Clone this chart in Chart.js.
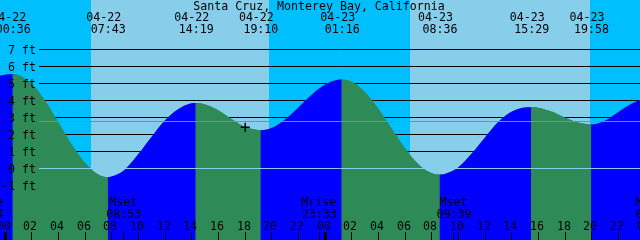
<!DOCTYPE html>
<html>
<head>
<meta charset="utf-8">
<script src="https://cdn.jsdelivr.net/npm/chart.js@4.4.1/dist/chart.umd.min.js"></script>
<style>
  html, body { margin: 0; padding: 0; background: #00bfff; }
  #wrap { width: 640px; height: 240px; }
</style>
</head>
<body>
<div id="wrap"><canvas id="tideChart"></canvas></div>
<script>
const title = "Santa Cruz, Monterey Bay, California";

// tide curve: hours after 04-22 00:00, height in ft
const tideHours = [-0.5, 0, 0.6, 1, 2, 3, 4, 5, 6, 7, 7.72, 8, 9, 10, 11, 12, 13, 14, 14.32,
  15, 16, 17, 18, 19, 19.17, 20, 21, 22, 23, 24, 25, 25.27, 26, 27, 28, 29, 30, 31, 32, 32.6,
  33, 34, 35, 36, 37, 38, 39, 39.48, 40, 41, 42, 43, 43.97, 45, 46, 47, 47.8];
const tideFeet = [5.43, 5.51, 5.54, 5.49, 4.98, 4.00, 2.73, 1.42, 0.32, -0.36, -0.51, -0.48, -0.08, 0.82, 1.85, 2.82, 3.48, 3.83, 3.85,
  3.77, 3.42, 2.91, 2.45, 2.25, 2.24, 2.37, 2.86, 3.57, 4.32, 4.92, 5.22, 5.23, 5.09, 4.50, 3.52, 2.35, 1.20, 0.26, -0.28, -0.37,
  -0.33, 0.05, 0.85, 1.80, 2.72, 3.33, 3.58, 3.60, 3.57, 3.34, 2.99, 2.69, 2.58, 2.80, 3.30, 3.80, 4.08];

// high / low tide labels along the top
const extremeDates = ["04-22", "04-22", "04-22", "04-22", "04-23", "04-23", "04-23", "04-23"];
const extremeTimes = ["00:36", "07:43", "14:19", "19:10", "01:16", "08:36", "15:29", "19:58"];

// sun, for the day / night bands
const sunDays = [0, 1];
const sunRise = ["06:28", "06:23"];
const sunSet = ["19:49", "19:53"];

// moon events along the bottom
const moonEvents = ["Mrise", "Mset", "Mrise", "Mset", "Mrise"];
const moonDays = [-1, 0, 0, 1, 2];
const moonTimes = ["22:34", "08:53", "23:33", "09:39", "00:36"];

const feetTicks = [-1, 0, 1, 2, 3, 4, 5, 6, 7];
const meanSeaLevel = 2.81;
const nowDay = 0, nowTime = "18:02", nowFeet = 2.42;

const NIGHT = "#00bfff", DAY = "#87ceeb";
const FLOOD = "#0000ff", EBB = "#2e8b57";
const FONT = '11.6px "DejaVu Sans Mono", monospace';

function toHour(day, t) {
  const [hh, mm] = t.split(":").map(Number);
  return day * 24 + hh + mm / 60;
}
function dayOf(date) {
  return parseInt(date.slice(3)) - 22;
}

const X_MIN = -0.36, X_MAX = 47.64;
const Y_MIN = -4.223, Y_MAX = 9.912;

const tidePlugin = {
  id: "tideDecor",
  beforeDatasetsDraw(chart) {
    const ctx = chart.ctx, x = chart.scales.x, y = chart.scales.y;
    const W = chart.width, H = chart.height;
    ctx.save();
    // night everywhere, then day bands
    ctx.fillStyle = NIGHT;
    ctx.fillRect(0, 0, W, H);
    ctx.fillStyle = DAY;
    sunDays.forEach((d, i) => {
      const a = Math.round(x.getPixelForValue(toHour(d, sunRise[i])));
      const b = Math.round(x.getPixelForValue(toHour(d, sunSet[i])));
      ctx.fillRect(a, 0, b - a, H);
    });
    // foot lines behind the water
    ctx.strokeStyle = "#000";
    ctx.lineWidth = 1;
    feetTicks.forEach(f => {
      if (f < 1) return;
      const py = Math.round(y.getPixelForValue(f)) + 0.5;
      ctx.beginPath();
      ctx.moveTo(39, py);
      ctx.lineTo(W, py);
      ctx.stroke();
    });
    ctx.restore();
  },
  afterDatasetsDraw(chart) {
    const ctx = chart.ctx, x = chart.scales.x, y = chart.scales.y;
    const W = chart.width;
    ctx.save();
    // datum and mean sea level lines on top of the water
    const py0 = Math.round(y.getPixelForValue(0)) + 0.5;
    ctx.lineWidth = 1;
    ctx.strokeStyle = "#87ceeb";
    ctx.beginPath(); ctx.moveTo(39, py0); ctx.lineTo(W, py0); ctx.stroke();
    const pyM = Math.round(y.getPixelForValue(meanSeaLevel)) + 0.5;
    ctx.strokeStyle = "#60a080";
    ctx.beginPath(); ctx.moveTo(39, pyM); ctx.lineTo(W, pyM); ctx.stroke();

    ctx.fillStyle = "#000";
    ctx.font = FONT;
    ctx.textBaseline = "alphabetic";

    // ft labels
    ctx.textAlign = "right";
    feetTicks.forEach(f => {
      const py = Math.round(y.getPixelForValue(f));
      ctx.fillText(f + " ft", 36, py + 4.5);
    });

    // title
    ctx.textAlign = "center";
    ctx.fillText(title, 319, 9.5);

    // high / low labels
    extremeDates.forEach((d, i) => {
      const px = x.getPixelForValue(toHour(dayOf(d), extremeTimes[i]));
      ctx.fillText(d, px - 4, 20.5);
      ctx.fillText(extremeTimes[i], px + 0.5, 33);
    });

    // moon labels and ticks
    moonEvents.forEach((m, i) => {
      const px = x.getPixelForValue(toHour(moonDays[i], moonTimes[i]));
      ctx.fillText(m, px, 205.5);
      ctx.fillText(moonTimes[i], px + 0.5, 217.5);
      ctx.fillRect(Math.round(px), 232, 1, 8);
    });

    // hour ticks
    for (let h = 0; h <= 48; h += 2) {
      const px = Math.round(x.getPixelForValue(h));
      ctx.fillText(String(h % 24).padStart(2, "0"), px - 1, 229.5);
      if (h % 24 === 0) ctx.fillRect(px - 1, 232, 3, 8);
      else ctx.fillRect(px, 232, 1, 8);
    }
    ctx.restore();
  }
};

const nowPoint = [{ x: toHour(nowDay, nowTime), y: nowFeet }];
const tidePoints = tideHours.map((h, i) => ({ x: h, y: tideFeet[i] }));

const chart = new Chart(document.getElementById("tideChart"), {
  type: "line",
  data: {
    datasets: [
      {
        label: "now",
        data: nowPoint,
        showLine: false,
        pointStyle: "cross",
        pointRadius: 4.5,
        borderColor: "#000",
        borderWidth: 1.5,
        order: 0
      },
      {
        label: "tide",
        data: tidePoints,
        fill: "start",
        backgroundColor: EBB,
        borderColor: "rgba(0,0,0,0)",
        borderWidth: 0,
        pointRadius: 0,
        cubicInterpolationMode: "monotone",
        segment: {
          backgroundColor: c => c.p1.parsed.y > c.p0.parsed.y ? FLOOD : EBB
        },
        order: 1
      },
      {
        // plain water underneath so the colour joins leave no gap
        label: "water",
        data: tidePoints,
        fill: "start",
        backgroundColor: EBB,
        borderColor: "rgba(0,0,0,0)",
        borderWidth: 0,
        pointRadius: 0,
        cubicInterpolationMode: "monotone",
        order: 2
      }
    ]
  },
  options: {
    responsive: true,
    maintainAspectRatio: false,
    animation: false,
    layout: { padding: 0, autoPadding: false },
    plugins: {
      legend: { display: false },
      tooltip: { enabled: false },
      title: { display: false }
    },
    scales: {
      x: { type: "linear", display: false, min: X_MIN, max: X_MAX },
      y: { display: false, min: Y_MIN, max: Y_MAX }
    }
  },
  plugins: [tidePlugin]
});
</script>
</body>
</html>
